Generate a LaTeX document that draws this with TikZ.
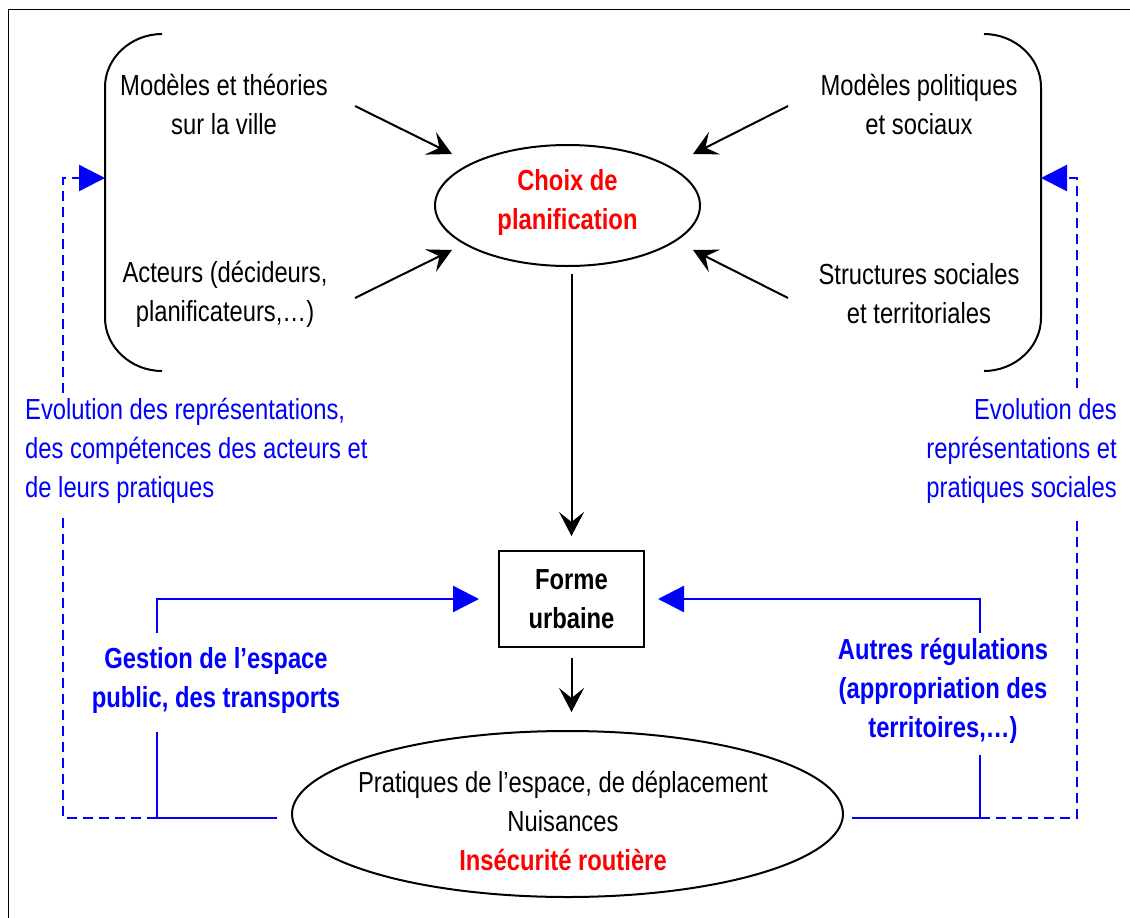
\documentclass[tikz,border=0pt]{standalone}
\usepackage{fontspec}
\setmainfont{Liberation Sans}[FakeStretch=0.82]
\usetikzlibrary{arrows.meta,shapes.geometric}
\definecolor{pblue}{RGB}{0,0,255}
\definecolor{pred}{RGB}{255,0,0}
\begin{document}
\begin{tikzpicture}[x=1pt,y=-1pt,
 txt/.style={inner sep=0pt, align=center, font=\fontsize{29}{39}\selectfont},
 btxt/.style={inner sep=0pt, align=center, font=\fontsize{29}{39}\selectfont\bfseries},
 blk/.style={line width=2pt, -{Stealth[length=24pt,width=25pt,inset=10pt]}},
 bluearr/.style={pblue, line width=2.4pt, -{Triangle[length=26pt,width=26pt]}},
 blueline/.style={pblue, line width=2.4pt},
 bluedash/.style={pblue, line width=2.4pt, dash pattern=on 10pt off 6pt},
 brk/.style={line width=2pt},
 shapeline/.style={draw, line width=2pt},
]
\useasboundingbox (0,0) rectangle (1130,918);
\fill[white] (0,0) rectangle (1130,918);
\draw[line width=1pt] (8,918) -- (8,9) -- (1130,9);

% brackets
\draw[brk] (162,34) .. controls (131,34) and (105,58) .. (105,87) -- (105,318) .. controls (105,347) and (131,371) .. (162,371);
\draw[brk] (984,34) .. controls (1015,34) and (1041,58) .. (1041,87) -- (1041,318) .. controls (1041,347) and (1015,371) .. (984,371);
\coordinate (lbr) at (105,178);
\coordinate (rbr) at (1041,178);

% text nodes
\node[txt] (mt) at (224,104) {Modèles et théories\\sur la ville};
\node[txt] (act) at (225,294) {Acteurs (décideurs,\\planificateurs,…)};
\node[txt] (mp) at (919,104) {Modèles politiques\\et sociaux};
\node[txt] (ss) at (919,294) {Structures sociales\\et territoriales};

\node[ellipse, shapeline, minimum width=265pt, minimum height=121pt, btxt, text=pred] (choix) at (567.5,205.5) {};
\node[btxt, text=pred] (choixtxt) at (567.5,202) {Choix de\\planification};
\node[rectangle, shapeline, minimum width=145pt, minimum height=96pt, btxt] (forme) at (571.5,599) {Forme\\urbaine};
\node[ellipse, shapeline, minimum width=551pt, minimum height=166pt, inner sep=0pt] (prat) at (567.5,814) {};
\node[txt] (prattxt) at (563,821) {Pratiques de l’espace, de déplacement\\Nuisances\\{\color{pred}\bfseries Insécurité routière}};

\node[btxt, text=pblue] (gest) at (216,680) {Gestion de l’espace\\public, des transports};
\node[btxt, text=pblue] (autres) at (943,691) {Autres régulations\\(appropriation des\\territoires,…)};
\node[txt, text=pblue, align=left, anchor=west] (evl) at (25,451) {Evolution des représentations,\\des compétences des acteurs et\\de leurs pratiques};
\node[txt, text=pblue, align=right, anchor=east] (evr) at (1117,451) {Evolution des\\représentations et\\pratiques sociales};

% black arrows into choix
\coordinate (a1s) at (355,106); \coordinate (a1e) at (452,154);
\coordinate (a2s) at (355,298); \coordinate (a2e) at (452,250);
\coordinate (a3s) at (788,106); \coordinate (a3e) at (693,154);
\coordinate (a4s) at (788,298); \coordinate (a4e) at (693,250);
\draw[blk] (a1s) -- (a1e);
\draw[blk] (a2s) -- (a2e);
\draw[blk] (a3s) -- (a3e);
\draw[blk] (a4s) -- (a4e);

\draw[blk, shorten <=7pt, shorten >=14pt] (choix.south -| forme.north) -- (forme.north);
\draw[blk, shorten <=10pt, shorten >=18pt] (forme.south) -- (forme.south |- prat.north);

% blue solid connectors
\coordinate (gA) at (277,818);
\coordinate (gB) at (157,732);
\coordinate (gC) at (157,633);
\coordinate (gcorner) at (157,818);
\coordinate (aA) at (852,818);
\coordinate (aB) at (980,755);
\coordinate (aC) at (980,633);
\coordinate (acorner) at (980,818);
\draw[blueline] (gA) -| (gB);
\draw[bluearr, shorten >=19pt] (gC) |- (forme.west);
\draw[blueline] (aA) -| (aB);
\draw[bluearr, shorten >=13pt] (aC) |- (forme.east);

% blue dashed feedback
\coordinate (dLb) at (63,515);
\coordinate (dLt) at (63,393);
\coordinate (dRb) at (1077,515);
\coordinate (dRt) at (1077,388);
\draw[bluedash] (gcorner) -| (dLb);
\draw[bluedash, -{Triangle[length=26pt,width=26pt]}] (dLt) |- (lbr);
\draw[bluedash] (acorner) -| (dRb);
\draw[bluedash, -{Triangle[length=26pt,width=26pt]}] (dRt) |- (rbr);
\end{tikzpicture}
\end{document}
